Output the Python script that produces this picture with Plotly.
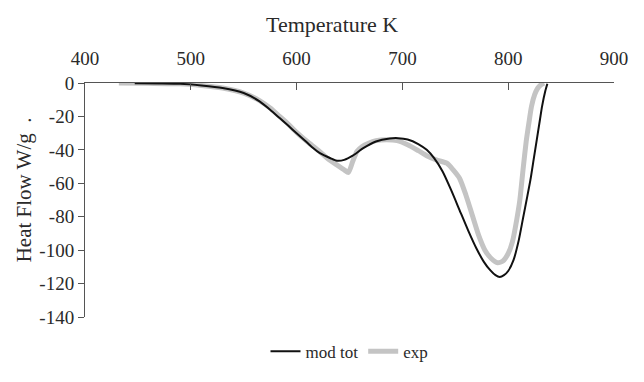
import plotly.graph_objects as go

# Model (mod tot)
mod_T = [447, 470, 490, 510, 530, 550, 565, 575, 584, 592, 600, 608, 615, 622, 632, 638,
         645, 653, 663, 675, 688, 696, 705, 715, 723, 730, 738, 746, 754, 762, 770, 777,
         783, 788, 792, 796, 800, 805, 810, 814, 818, 821, 824, 827, 830, 832, 835, 837]
mod_V = [-0.2, -0.3, -0.5, -1.5, -3, -6, -11, -16, -21, -25.5, -30, -34.5, -38.6, -42, -45, -46.5,
         -46, -43.5, -39, -35, -33.2, -33, -33.8, -36.5, -40, -45, -53, -64, -76, -88, -99, -107,
         -112, -115, -116, -115, -112.5, -106, -94, -81, -68, -58, -46, -34, -22, -14, -5, -0.5]

# Experiment (exp)
exp_T = [432, 460, 490, 510, 530, 550, 565, 575, 584, 592, 600, 610, 620, 629, 638, 645,
         649, 653, 657, 662, 668, 675, 685, 695, 705, 715, 723, 732, 742, 748, 754, 760,
         766, 772, 778, 784, 790, 795, 800, 804, 808, 811, 814, 817, 820, 822, 825, 828, 831, 834]
exp_V = [0, -0.2, -0.5, -1.5, -3, -6, -10.5, -15, -20, -24.5, -29.5, -35, -40, -45, -49, -52,
         -53.5, -47, -41, -38, -36, -34.5, -34, -34.5, -37, -40.5, -43.5, -46, -48, -52, -57, -67,
         -79, -91, -100, -105, -107.5, -106.5, -102, -95, -82, -70, -52, -35, -22, -14, -7, -3, -1, 0]

x_ticks = [400, 500, 600, 700, 800, 900]
y_ticks = [0, -20, -40, -60, -80, -100, -120, -140]
y_tick_labels = [str(v) for v in y_ticks]

FONT = "Liberation Serif"
TXT = "#2a2a2a"

fig = go.Figure()
fig.add_trace(go.Scatter(x=exp_T, y=exp_V, mode="lines", name="exp",
                         line=dict(color="#c4c4c4", width=5, shape="spline", smoothing=0.6),
                         legendrank=2))
fig.add_trace(go.Scatter(x=mod_T, y=mod_V, mode="lines", name="mod tot",
                         line=dict(color="#111111", width=2, shape="spline", smoothing=0.6),
                         legendrank=1))

fig.update_layout(
    width=644, height=382,
    margin=dict(l=85, r=30, t=83, b=49),
    paper_bgcolor="white", plot_bgcolor="white",
    font=dict(family=FONT, size=19, color=TXT),
    showlegend=True,
    legend=dict(orientation="h", x=0.5, xanchor="center", y=-0.148, yanchor="middle",
                font=dict(family=FONT, size=17, color=TXT), itemwidth=30,
                bgcolor="rgba(0,0,0,0)"),
    xaxis=dict(side="top", range=[400, 900], tickmode="array", tickvals=x_ticks,
               ticks="inside", ticklen=7, tickcolor="#555555", showline=True,
               linecolor="#555555", linewidth=1, showgrid=False, zeroline=False,
               ticklabelstandoff=9, tickfont=dict(family=FONT, size=19, color=TXT)),
    yaxis=dict(range=[-140, 0], tickmode="array", tickvals=y_ticks, ticktext=y_tick_labels,
               ticks="outside", ticklen=6, tickcolor="#555555", showline=True,
               linecolor="#555555", linewidth=1, showgrid=False, zeroline=False,
               tickfont=dict(family=FONT, size=19, color=TXT)),
    annotations=[
        dict(text="Temperature K", xref="paper", yref="paper", x=0.467, y=1.248,
             xanchor="center", yanchor="middle", showarrow=False,
             font=dict(family=FONT, size=22, color=TXT)),
        dict(text="Heat Flow W/g  .", xref="paper", yref="paper", x=-0.116, y=0.544,
             xanchor="center", yanchor="middle", showarrow=False, textangle=-90,
             font=dict(family=FONT, size=21, color=TXT)),
    ],
)

fig.write_html("out.html")
